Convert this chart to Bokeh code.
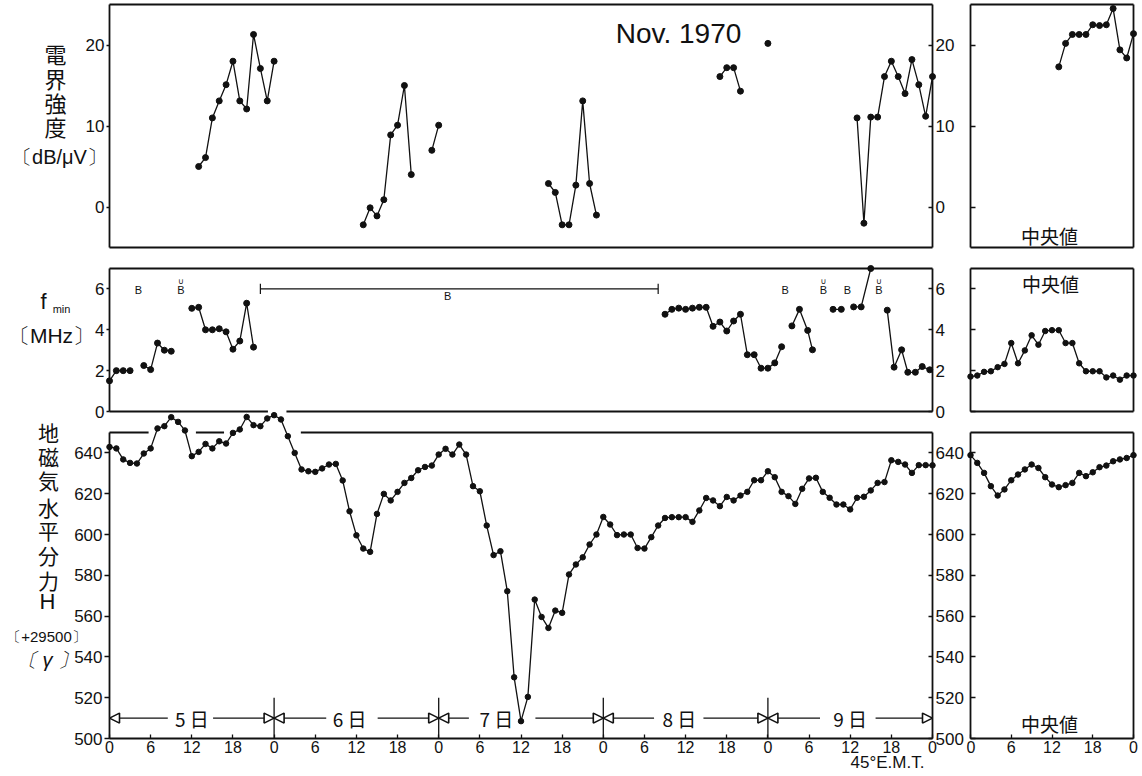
import numpy as np
from bokeh.plotting import figure
from bokeh.layouts import row
from bokeh.models import Range1d, FixedTicker, LinearAxis, Label, Arrow, NormalHead
from bokeh.core.properties import value
from bokeh.embed import file_html
from bokeh.resources import INLINE

nan = float("nan")

# ---------------- data ----------------
# field strength (dB/uV), hours from 0h of the 5th; nan = gap
e_hours = [13, 14, 15, 16, 17, 18, 19, 20, 21, 22, 23, 24, nan,
           37, 38, 39, 40, 41, 42, 43, 44, nan,
           47, 48, nan,
           64, 65, 66, 67, 68, 69, 70, 71, nan,
           89, 90, 91, 92, nan,
           96, nan,
           109, 110, 111, 112, 113, 114, 115, 116, 117, 118, 119, 120]
e_values = [5.0, 6.1, 11.0, 13.1, 15.1, 18.0, 13.1, 12.1, 21.3, 17.1, 13.1, 18.0, nan,
            -2.2, -0.1, -1.1, 0.9, 8.9, 10.1, 15.0, 4.0, nan,
            7.0, 10.1, nan,
            2.9, 1.8, -2.2, -2.2, 2.7, 13.1, 2.9, -1.0, nan,
            16.1, 17.2, 17.2, 14.3, nan,
            20.2, nan,
            11.0, -2.0, 11.1, 11.1, 16.1, 18.0, 16.1, 14.0, 18.2, 15.1, 11.2, 16.1]
e_med_hours = [13, 14, 15, 16, 17, 18, 19, 20, 21, 22, 23, 24]
e_med_values = [17.3, 20.2, 21.3, 21.3, 21.3, 22.5, 22.4, 22.5, 24.5, 19.4, 18.4, 21.4]

# fmin (MHz)
f_hours = [0, 1, 2, 3, nan,
           5, 6, 7, 8, 9, nan,
           12, 13, 14, 15, 16, 17, 18, 19, 20, 21, nan,
           81, 82, 83, 84, 85, 86, 87, 88, 89, 90, 91, 92, 93, 94, 95, 96, 97, 98, nan,
           99.5, 100.6, 101.8, 102.5, nan,
           105.5, 106.7, nan,
           108.5, 109.6, 111.0, nan,
           113.4, 114.4, 115.5, 116.4, 117.5, 118.5, 119.6]
f_values = [1.5, 2.0, 2.0, 2.0, nan,
            2.25, 2.05, 3.35, 3.0, 2.95, nan,
            5.05, 5.1, 4.0, 4.0, 4.05, 3.9, 3.05, 3.45, 5.3, 3.15, nan,
            4.76, 5.0, 5.06, 5.0, 5.06, 5.1, 5.1, 4.17, 4.38, 3.94, 4.43, 4.76, 2.78, 2.78,
            2.12, 2.12, 2.38, 3.17, nan,
            4.19, 5.0, 3.97, 3.02, nan,
            5.0, 5.0, nan,
            5.12, 5.12, 7.0, nan,
            4.96, 2.17, 3.02, 1.92, 1.92, 2.2, 2.04]
f_med_hours = [0, 1, 2, 3, 4, 5, 6, 7, 8, 9, 10, 11, 12, 13, 14, 15, 16, 17, 18, 19, 20, 21, 22, 23, 24]
f_med_values = [1.71, 1.76, 1.94, 1.97, 2.17, 2.33, 3.35, 2.36, 2.99, 3.73, 3.27, 3.94, 3.98,
                3.98, 3.35, 3.35, 2.36, 1.97, 1.97, 1.97, 1.67, 1.76, 1.56, 1.76, 1.76]
b_plain_hours = [4.2, 49.3, 98.5, 107.6]
b_plain_levels = [5.95, 5.65, 5.95, 5.95]
b_cap_hours = [10.4, 104.1, 112.2]
b_cap_levels = [5.95, 5.95, 5.95]
b_bracket_start, b_bracket_end, b_bracket_level = 22, 80, 6.0

# horizontal component H (+29500 gamma), hourly
h_hours = list(range(0, 121))
h_values = [642.9, 642.2, 636.8, 635.1, 634.8, 639.7, 642.2, 652.0, 653.1, 657.5, 655.2, 651.0,
            638.4, 640.5, 644.4, 642.2, 645.7, 644.6, 649.8, 651.5, 657.6, 653.6, 653.1, 656.9,
            658.5, 656.4, 648.2, 640.0, 631.9, 631.0, 630.7, 632.4, 634.3, 634.6, 626.5, 611.4,
            599.6, 593.1, 591.5, 610.1, 619.9, 616.7, 620.9, 625.3, 627.7, 631.5, 633.1, 633.8,
            639.2, 642.0, 639.2, 644.1, 639.2, 623.7, 621.2, 604.4, 589.9, 591.8, 572.2, 530.0,
            508.5, 520.4, 568.1, 559.6, 554.2, 562.7, 561.6, 580.4, 585.3, 588.8, 595.1, 600.0,
            608.6, 604.9, 599.7, 600.0, 600.0, 593.4, 593.1, 598.7, 604.4, 608.1, 608.5, 608.5,
            608.5, 606.2, 611.8, 617.9, 616.7, 613.9, 618.4, 616.7, 619.1, 620.9, 626.6, 626.6,
            631.0, 628.1, 620.9, 618.8, 615.0, 622.4, 627.5, 627.8, 620.9, 618.0, 614.7, 614.7,
            612.3, 618.0, 618.5, 621.6, 625.3, 625.7, 636.4, 635.6, 634.3, 630.2, 634.0, 634.0,
            633.9]
h_med_hours = [0, 1, 2, 3, 4, 5, 6, 7, 8, 9, 10, 11, 12, 13, 14, 15, 16, 17, 18, 19, 20, 21, 22, 23, 24]
h_med_values = [638.9, 635.1, 630.2, 623.7, 619.1, 622.1, 626.6, 629.4, 631.9, 634.3, 632.6, 628.1,
                624.5, 623.2, 624.2, 625.3, 630.2, 628.6, 630.5, 633.0, 633.8, 635.9, 636.8, 637.5,
                638.9]
h_top_border = [(0, 5.7), (12.6, 16.7), (27.9, 120)]
f_bottom_border = [(0, 23.1), (25.8, 120)]

day_labels = ["5 日", "6 日", "7 日", "8 日", "9 日"]
day_label_hours = [12, 35, 56.4, 83.1, 108.0]
day_gap_left = [8.5, 31.6, 52.4, 79.4, 103.6]
day_gap_right = [15.1, 39.1, 62.1, 86.6, 111.7]
day_bounds = [24, 48, 72, 96]
day_arrow_level = 510
day_marker_top = 520

main_x_ticks = [0, 6, 12, 18, 24, 30, 36, 42, 48, 54, 60, 66, 72, 78, 84, 90, 96, 102, 108, 114, 120]
main_x_labels = ["0", "6", "12", "18", "0", "6", "12", "18", "0", "6", "12", "18", "0", "6", "12",
                 "18", "0", "6", "12", "18", "0"]
med_x_ticks = [0, 6, 12, 18, 24]
med_x_labels = ["0", "6", "12", "18", "0"]
e_ticks = [0, 10, 20]
f_ticks = [0, 2, 4, 6]
h_ticks = [500, 520, 540, 560, 580, 600, 620, 640]
E_LIM = (-5, 25)
F_LIM = (0, 7)
H_LIM = (500, 650)

# ---------------- layout (pixels) ----------------
H_PAGE = 775
MAIN_W = 966          # main figure: hour 0 at x=109, hour 120 at x=932
MED_W = 174           # median figure: x 966..1140, hour 0 at 970, hour 24 at 1133
PX_MAIN = 823 / 120
PX_MED = 163 / 24
# vertical placement of each panel: (value at top, page y top, value at bottom, page y bottom)
E_MAP = (25, 4, -5, 247)
F_MAP = (7, 268, 0, 411)
H_MAP = (650, 432, 500, 738)


def yrange(m):
    vt, yt, vb, yb = m
    s = (yb - yt) / (vt - vb)
    return Range1d(vb - (H_PAGE - yb) / s, vt + yt / s)


INK = "#111111"
TICK_FONT = "Liberation Sans"
JP = "Noto Sans CJK JP"
FRAME_W = 1.8


def make_fig(width, x0, px):
    p = figure(frame_width=width, frame_height=H_PAGE,
               x_range=Range1d(-x0 / px, (width - x0) / px), y_range=yrange(H_MAP),
               x_axis_location=None, y_axis_location=None, toolbar_location=None,
               output_backend="svg", min_border=0)
    p.extra_y_ranges = {"e": yrange(E_MAP), "f": yrange(F_MAP)}
    p.grid.visible = False
    p.background_fill_color = "white"
    p.border_fill_color = "white"
    p.outline_line_color = None
    return p


def axis(p, side, ticks, fixed, bounds, rng=None, labels=None, show=True, tin=0, tout=4,
         standoff=2, size="17px", line=True):
    ax = LinearAxis(ticker=FixedTicker(ticks=ticks, minor_ticks=[]), fixed_location=fixed)
    if rng is not None:
        ax.y_range_name = rng
    ax.bounds = bounds
    ax.major_tick_in = tin
    ax.major_tick_out = tout
    ax.major_tick_line_color = INK if (tin or tout) else None
    ax.major_tick_line_width = 1.3
    ax.minor_tick_line_color = None
    ax.axis_line_color = INK if line else None
    ax.axis_line_width = FRAME_W
    ax.major_label_standoff = standoff
    ax.major_label_text_font = TICK_FONT
    ax.major_label_text_color = INK
    if show:
        ax.major_label_text_font_size = size
        if labels is not None:
            ax.major_label_overrides = {t: l for t, l in zip(ticks, labels)}
    else:
        ax.major_label_text_font_size = "0px"
        ax.major_label_overrides = {t: "" for t in ticks}
    p.add_layout(ax, side)


def hline(p, spans, level, rng="default"):
    p.segment(x0=[a for a, b in spans], y0=[level] * len(spans),
              x1=[b for a, b in spans], y1=[level] * len(spans),
              line_color=INK, line_width=FRAME_W, y_range_name=rng)


def series(p, xs, ys, rng="default", size=6):
    xs = np.array(xs, dtype=float)
    ys = np.array(ys, dtype=float)
    p.line(xs, ys, line_color=INK, line_width=1.3, y_range_name=rng)
    p.scatter(xs, ys, size=size, marker="circle", fill_color=INK, line_color=INK,
              y_range_name=rng)


def page_label(p, fig_left, text, px, py, size, font=TICK_FONT, align="center", style="normal"):
    p.add_layout(Label(x=px - fig_left, y=H_PAGE - py, x_units="screen", y_units="screen",
                       text=text, text_font=font, text_font_size=size, text_align=align,
                       text_baseline="middle", text_color=INK, text_font_style=style))


# ================= main figure =================
pm = make_fig(MAIN_W, 109, PX_MAIN)

# --- field strength panel ---
axis(pm, "left", e_ticks, 0, E_LIM, rng="e", tout=3)
axis(pm, "right", e_ticks, 120, E_LIM, rng="e", tin=4, tout=0, standoff=3)
hline(pm, [(0, 120)], E_LIM[1], "e")
hline(pm, [(0, 120)], E_LIM[0], "e")
series(pm, e_hours, e_values, "e")
for ch, py in zip(["電", "界", "強", "度"], [52, 77, 101, 125]):
    page_label(pm, 0, ch, 55, py, "22px", font=JP)
page_label(pm, 0, "〔dB/μV〕", 59, 156, "20px")
page_label(pm, 0, "Nov. 1970", 678, 33, "28px")

# --- fmin panel ---
axis(pm, "left", f_ticks, 0, F_LIM, rng="f", tout=3)
axis(pm, "right", f_ticks, 120, F_LIM, rng="f", tin=4, tout=0, standoff=3)
hline(pm, [(0, 120)], F_LIM[1], "f")
hline(pm, f_bottom_border, F_LIM[0], "f")
series(pm, f_hours, f_values, "f")
pm.text(x=b_plain_hours, y=b_plain_levels, text=["B"] * len(b_plain_hours),
        text_font=value(TICK_FONT), text_font_size="11px", text_align="center",
        text_baseline="middle", text_color=INK, y_range_name="f")
pm.text(x=b_cap_hours, y=b_cap_levels, text=["B"] * len(b_cap_hours),
        text_font=value(TICK_FONT), text_font_size="11px", text_align="center",
        text_baseline="middle", text_color=INK, y_range_name="f")
pm.text(x=b_cap_hours, y=[v + 0.42 for v in b_cap_levels], text=["∪"] * len(b_cap_hours),
        text_font=value("DejaVu Sans"), text_font_size="8px", text_align="center",
        text_baseline="middle", text_color=INK, y_range_name="f")
pm.segment(x0=[b_bracket_start], y0=[b_bracket_level], x1=[b_bracket_end], y1=[b_bracket_level],
           line_color=INK, line_width=1.2, y_range_name="f")
pm.segment(x0=[b_bracket_start, b_bracket_end], y0=[b_bracket_level - 0.25] * 2,
           x1=[b_bracket_start, b_bracket_end], y1=[b_bracket_level + 0.25] * 2,
           line_color=INK, line_width=1.2, y_range_name="f")
page_label(pm, 0, "f", 43, 301, "22px")
page_label(pm, 0, "min", 61, 308, "11px")
page_label(pm, 0, "〔MHz〕", 51, 335, "21px")

# --- H panel ---
axis(pm, "left", h_ticks, 0, H_LIM, tout=5)
axis(pm, "right", h_ticks, 120, H_LIM, tin=4, tout=0, standoff=3)
hline(pm, h_top_border, H_LIM[1])
series(pm, h_hours, h_values, size=5.5)
pm.segment(x0=day_bounds, y0=[H_LIM[0]] * len(day_bounds), x1=day_bounds,
           y1=[day_marker_top] * len(day_bounds), line_color=INK, line_width=1.3)
for i in range(5):
    for xs, xe in ((day_gap_left[i], 24 * i), (day_gap_right[i], 24 * (i + 1))):
        pm.add_layout(Arrow(end=NormalHead(size=10, fill_color="white", line_color=INK,
                                           line_width=1.6),
                            x_start=xs, y_start=day_arrow_level, x_end=xe,
                            y_end=day_arrow_level, line_color=INK, line_width=1.2))
pm.text(x=day_label_hours, y=[day_arrow_level] * 5, text=day_labels,
        text_font=value(JP), text_font_size="19px", text_align="center",
        text_baseline="middle", text_color=INK)
for ch, py in zip(["地", "磁", "気", "水", "平", "分", "力"], [431, 455, 479, 506, 529, 554, 579]):
    page_label(pm, 0, ch, 48, py, "21px", font=JP)
page_label(pm, 0, "H", 47, 601, "22px")
page_label(pm, 0, "〔+29500〕", 46, 636, "15px")
page_label(pm, 0, "〔 γ 〕", 47, 659, "20px", style="italic")
page_label(pm, 0, "45°E.M.T.", 887, 762, "17px")


def x_axis(p, ticks, labels, bounds):
    ax = LinearAxis(ticker=FixedTicker(ticks=ticks, minor_ticks=[]), fixed_location=H_LIM[0])
    ax.bounds = bounds
    ax.major_label_overrides = {t: l for t, l in zip(ticks, labels)}
    ax.major_tick_in = 4
    ax.major_tick_out = 0
    ax.major_tick_line_color = INK
    ax.major_tick_line_width = 1.3
    ax.minor_tick_line_color = None
    ax.axis_line_color = INK
    ax.axis_line_width = FRAME_W
    ax.major_label_standoff = 2
    ax.major_label_text_font = TICK_FONT
    ax.major_label_text_font_size = "16px"
    ax.major_label_text_color = INK
    p.add_layout(ax, "below")


x_axis(pm, main_x_ticks, main_x_labels, (0, 120))

# ================= median figure =================
pd_ = make_fig(MED_W, 4, PX_MED)
for ticks, lim, rng in ((e_ticks, E_LIM, "e"), (f_ticks, F_LIM, "f"), (h_ticks, H_LIM, None)):
    axis(pd_, "left", ticks, 0, lim, rng=rng, show=False, tin=5, tout=0, standoff=0)
    axis(pd_, "right", ticks, 24, lim, rng=rng, show=False, tin=0, tout=0, standoff=0)
hline(pd_, [(0, 24)], E_LIM[1], "e")
hline(pd_, [(0, 24)], E_LIM[0], "e")
hline(pd_, [(0, 24)], F_LIM[1], "f")
hline(pd_, [(0, 24)], F_LIM[0], "f")
hline(pd_, [(0, 24)], H_LIM[1])
x_axis(pd_, med_x_ticks, med_x_labels, (0, 24))
series(pd_, e_med_hours, e_med_values, "e")
series(pd_, f_med_hours, f_med_values, "f", size=5.5)
series(pd_, h_med_hours, h_med_values, size=5.5)
MED_LEFT = MAIN_W
page_label(pd_, MED_LEFT, "中央値", 1049, 235, "19px", font=JP)
page_label(pd_, MED_LEFT, "中央値", 1050, 283, "19px", font=JP)
page_label(pd_, MED_LEFT, "中央値", 1049, 723, "19px", font=JP)

layout = row(pm, pd_)
open("out.html", "w").write(file_html(layout, INLINE))
